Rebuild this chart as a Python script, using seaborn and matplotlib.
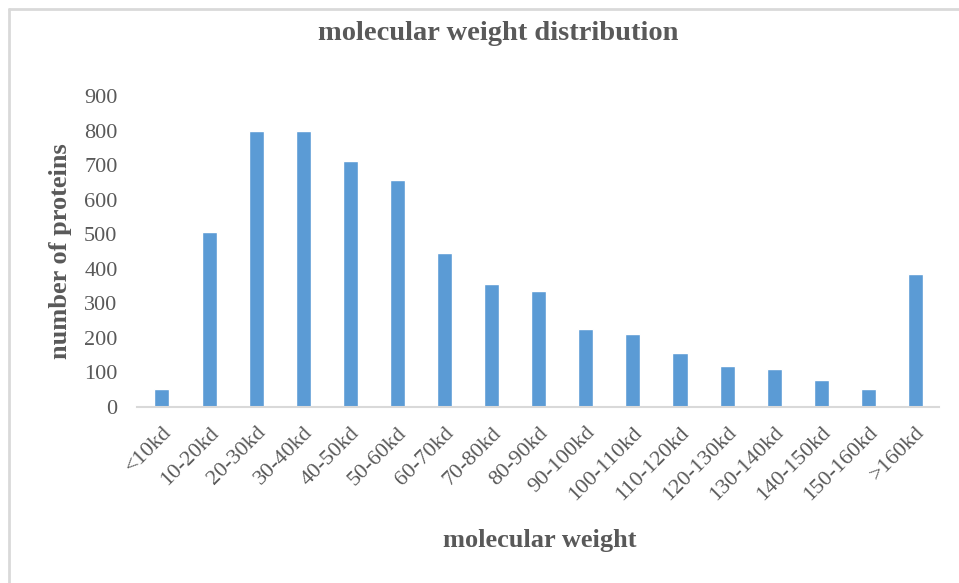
import matplotlib
matplotlib.use("Agg")
import matplotlib.pyplot as plt
from matplotlib.lines import Line2D
import seaborn as sns
import pandas as pd

categories = ["<10kd", "10-20kd", "20-30kd", "30-40kd", "40-50kd", "50-60kd",
              "60-70kd", "70-80kd", "80-90kd", "90-100kd", "100-110kd",
              "110-120kd", "120-130kd", "130-140kd", "140-150kd", "150-160kd",
              ">160kd"]
counts = [51, 507, 800, 800, 713, 657, 445, 356, 334, 226, 211, 156, 119,
          110, 77, 50, 385]
y_ticks = [0, 100, 200, 300, 400, 500, 600, 700, 800, 900]

title_text = "molecular weight distribution"
x_label = "molecular weight"
y_label = "number of proteins"

sns.set_theme(style="white")
plt.rcParams["font.family"] = ["Liberation Serif", "DejaVu Serif"]

text_grey = "#595959"
bar_blue = "#5B9BD5"

fig = plt.figure(figsize=(9.59, 5.83), dpi=100)
ax = fig.add_axes([137 / 959, 1 - 406.7 / 583, (939 - 137) / 959, (406.7 - 96) / 583])

df = pd.DataFrame({"category": categories, "count": counts})
sns.barplot(data=df, x="category", y="count", color=bar_blue, width=0.32,
            saturation=1, ax=ax, order=categories)

ax.set_xlim(-0.53, 16.5)
ax.set_ylim(0, 900)
ax.set_yticks(y_ticks)
ax.set_yticklabels([str(v) for v in y_ticks], fontsize=16, color=text_grey)
ax.tick_params(axis="y", length=0, pad=14)
ax.tick_params(axis="x", length=0, pad=12)
for lab in ax.get_xticklabels():
    lab.set_rotation(45)
    lab.set_ha("right")
    lab.set_va("top")
    lab.set_rotation_mode("anchor")
    lab.set_fontsize(16)
    lab.set_color(text_grey)

for s in ["top", "right", "left"]:
    ax.spines[s].set_visible(False)
ax.spines["bottom"].set_color("#D9D9D9")
ax.spines["bottom"].set_linewidth(1.5)
ax.grid(False)

ax.set_xlabel("")
ax.set_ylabel("")
fig.text(540 / 959, 1 - 540 / 583, x_label, ha="center", va="center",
         fontsize=19, fontweight="bold", color=text_grey)
fig.text(60 / 959, 1 - 251 / 583, y_label, ha="center", va="center",
         rotation=90, fontsize=19, fontweight="bold", color=text_grey)
fig.text(498 / 959, 1 - 33 / 583, title_text, ha="center", va="center",
         fontsize=20.5, fontweight="bold", color=text_grey)

# chart frame (top and left edges)
fig.add_artist(Line2D([9 / 959, 9 / 959], [0, 1 - 9 / 583], transform=fig.transFigure,
                      color="#D9D9D9", linewidth=2))
fig.add_artist(Line2D([9 / 959, 1], [1 - 9 / 583, 1 - 9 / 583], transform=fig.transFigure,
                      color="#D9D9D9", linewidth=2))

fig.savefig("out.png", dpi=100, facecolor="white")
